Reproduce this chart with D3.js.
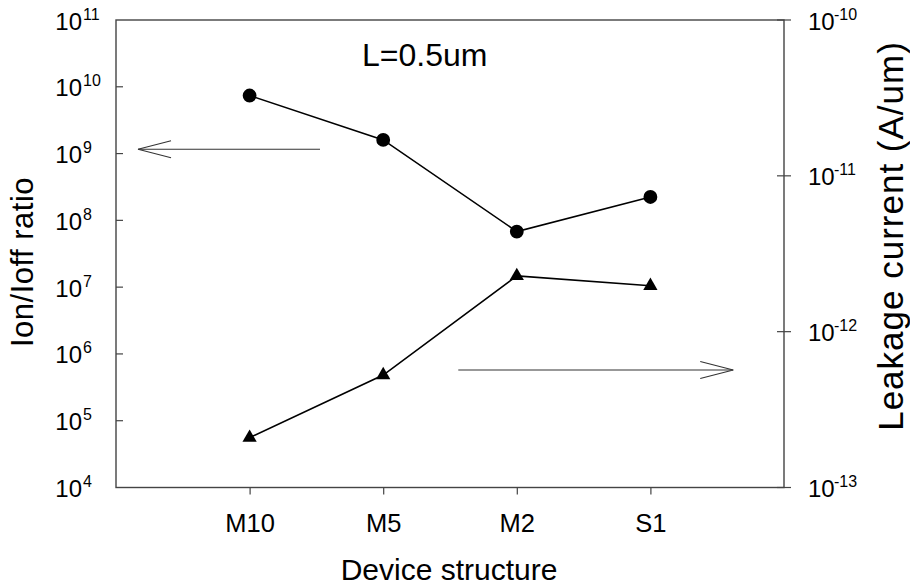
<!DOCTYPE html>
<html>
<head>
<meta charset="utf-8">
<script src="https://cdn.jsdelivr.net/npm/d3@7"></script>
<style>
  html, body { margin: 0; padding: 0; background: #fff; }
  svg { display: block; font-family: "Liberation Sans", Arial, Helvetica, sans-serif; }
</style>
</head>
<body>
<svg id="chart" width="910" height="587"></svg>
<script>
// Device structures along the x axis
const structures = ["M10", "M5", "M2", "S1"];
// Ion/Ioff ratio (left axis, circles)
const onOffRatio = [7.4e9, 1.6e9, 6.8e7, 2.24e8];
// Leakage current in A/um (right axis, triangles)
const leakage = [2.09e-13, 5.27e-13, 2.28e-12, 1.97e-12];
// Tick exponents for both log axes
const leftExponents = [4, 5, 6, 7, 8, 9, 10, 11];
const rightExponents = [-13, -12, -11, -10];
// Annotation arrows in data units: x in category slots, y on the axis they point to
const leftArrow = { x0: 1.527, x1: 0.165, y: Math.pow(10, 9.064) };
const rightArrow = { x0: 2.562, x1: 4.62, y: Math.pow(10, -12.246) };

const svg = d3.select("#chart");
const plot = { left: 116, right: 784, top: 20, bottom: 487.5 };

const x = d3.scaleLinear().domain([0, structures.length + 1]).range([plot.left, plot.right]);
const yL = d3.scaleLog().domain([1e4, 1e11]).range([plot.bottom, plot.top]);
const yR = d3.scaleLog().domain([1e-13, 1e-10]).range([plot.bottom, plot.top]);

const axisColor = "#444";

// Frame
svg.append("rect")
  .attr("x", plot.left).attr("y", plot.top)
  .attr("width", plot.right - plot.left).attr("height", plot.bottom - plot.top)
  .attr("fill", "none").attr("stroke", axisColor).attr("stroke-width", 1.4);

// Left axis ticks (inward)
const leftG = svg.append("g");
leftExponents.forEach(e => {
  const yy = yL(Math.pow(10, e));
  if (e > 4 && e < 11) {
    leftG.append("line").attr("x1", plot.left).attr("x2", plot.left + 7)
      .attr("y1", yy).attr("y2", yy).attr("stroke", axisColor).attr("stroke-width", 1.2);
  }
  leftG.append("text").attr("x", 82).attr("y", yy + 9.5)
    .attr("text-anchor", "end").attr("font-size", 24).attr("fill", "#000").text("10");
  leftG.append("text").attr("x", 83).attr("y", yy - 0.5)
    .attr("text-anchor", "start").attr("font-size", 16).attr("fill", "#000").text(e);
});

// Right axis ticks (crossing the axis line)
const rightG = svg.append("g");
rightExponents.forEach(e => {
  const yy = yR(Math.pow(10, e));
  rightG.append("line").attr("x1", plot.right - 7).attr("x2", plot.right + 7)
    .attr("y1", yy).attr("y2", yy).attr("stroke", axisColor).attr("stroke-width", 1.2);
  rightG.append("text").attr("x", 808).attr("y", yy + 9.5)
    .attr("text-anchor", "start").attr("font-size", 24).attr("fill", "#000").text("10");
  rightG.append("text").attr("x", 834).attr("y", yy - 0.5)
    .attr("text-anchor", "start").attr("font-size", 16).attr("fill", "#000").text(e);
});

// Bottom axis (outward ticks, category labels)
const xAxis = d3.axisBottom(x)
  .tickValues(structures.map((d, i) => i + 1))
  .tickFormat(v => structures[v - 1])
  .tickSize(7).tickPadding(19);
const xg = svg.append("g").attr("transform", `translate(0,${plot.bottom})`).call(xAxis);
xg.select(".domain").remove();
xg.selectAll(".tick line").attr("stroke", axisColor).attr("stroke-width", 1.2);
xg.selectAll(".tick text").attr("font-size", 25.5).attr("fill", "#000")
  .attr("font-family", "'Liberation Sans', Arial, sans-serif");

// Axis titles
svg.append("text").attr("x", 449).attr("y", 580).attr("text-anchor", "middle")
  .attr("font-size", 30).text("Device structure");
svg.append("text").attr("transform", "translate(33,262) rotate(-90)")
  .attr("text-anchor", "middle").attr("font-size", 31).attr("letter-spacing", 0.5)
  .text("Ion/Ioff ratio");
svg.append("text").attr("transform", "translate(903,236) rotate(-90)")
  .attr("text-anchor", "middle").attr("font-size", 35).attr("letter-spacing", 1)
  .text("Leakage current (A/um)");

// Channel length note
svg.append("text").attr("x", 362).attr("y", 65.5).attr("font-size", 32).text("L=0.5um");

// Series lines
const lineL = d3.line().x((d, i) => x(i + 1)).y(d => yL(d));
const lineR = d3.line().x((d, i) => x(i + 1)).y(d => yR(d));
svg.append("path").attr("d", lineL(onOffRatio)).attr("fill", "none")
  .attr("stroke", "#000").attr("stroke-width", 1.6);
svg.append("path").attr("d", lineR(leakage)).attr("fill", "none")
  .attr("stroke", "#000").attr("stroke-width", 1.6);

// Markers
svg.selectAll(".circ").data(onOffRatio).enter().append("path")
  .attr("d", d3.symbol(d3.symbolCircle, 150)())
  .attr("transform", (d, i) => `translate(${x(i + 1)},${yL(d)})`)
  .attr("fill", "#000");
svg.selectAll(".tri").data(leakage).enter().append("path")
  .attr("d", d3.symbol(d3.symbolTriangle, 88)())
  .attr("transform", (d, i) => `translate(${x(i + 1)},${yR(d)})`)
  .attr("fill", "#000");

// Open-head arrows
function arrow(x0, x1, yy) {
  const dir = Math.sign(x1 - x0);
  const g = svg.append("g").attr("stroke", "#333").attr("stroke-width", 1.1).attr("fill", "none");
  g.append("line").attr("x1", x0).attr("x2", x1).attr("y1", yy).attr("y2", yy);
  g.append("path").attr("d",
    `M${x1 - dir * 33},${yy - 8.5} L${x1},${yy} L${x1 - dir * 33},${yy + 8.5}`);
}
arrow(x(leftArrow.x0), x(leftArrow.x1), yL(leftArrow.y));
arrow(x(rightArrow.x0), x(rightArrow.x1), yR(rightArrow.y));
</script>
</body>
</html>
